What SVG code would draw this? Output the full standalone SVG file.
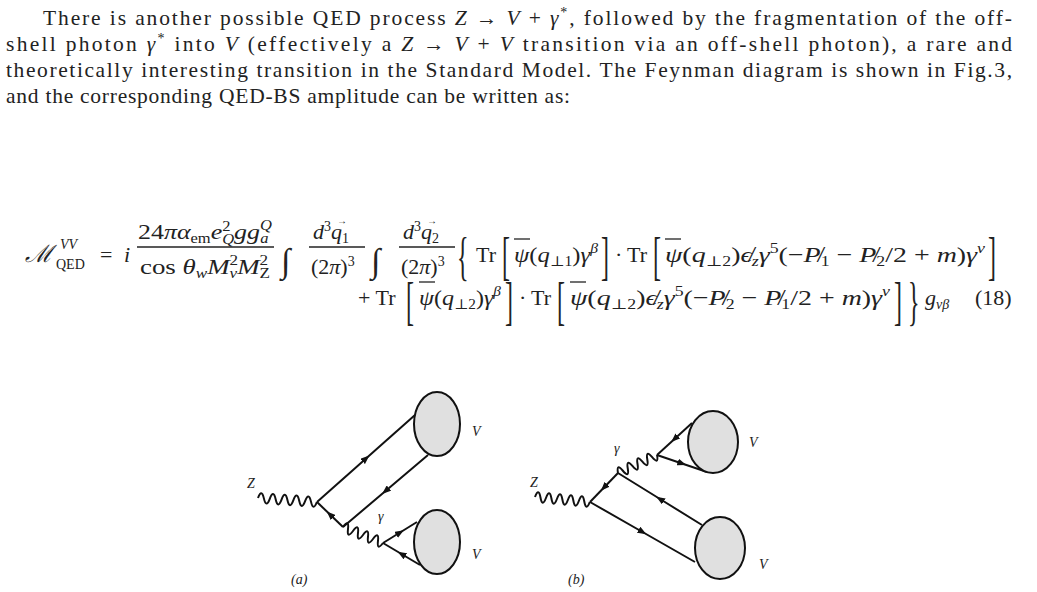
<svg xmlns="http://www.w3.org/2000/svg" width="1037" height="592" viewBox="0 0 1037 592">
<style>
text{font-family:"Liberation Serif","DejaVu Serif",serif;fill:#222;}
.p{font-size:21.5px;}
.m{font-size:22px;}
.i{font-style:italic;}
.s{font-size:14px;}
.lb{font-size:14px;font-style:italic;}
.f{fill:none;stroke:#111;stroke-width:2;marker-mid:url(#ar);}
.w{fill:none;stroke:#111;stroke-width:2;}
.bl{fill:#e0e0e0;stroke:#111;stroke-width:2;}
.ln{stroke:#222;stroke-width:1.3;}
.br{font-size:24px;}
</style>
<defs>
<marker id="ar" markerWidth="9" markerHeight="7" refX="4.5" refY="3.5" orient="auto" markerUnits="userSpaceOnUse"><path d="M0,0 L9,3.5 L0,7 z" fill="#111"/></marker>
</defs>
<rect width="1037" height="592" fill="#fff"/>
<g id="paragraph" class="p">
<text x="43" y="25" textLength="969" lengthAdjust="spacing">There is another possible QED process <tspan class="i">Z</tspan> → <tspan class="i">V</tspan> + <tspan class="i">γ</tspan><tspan class="s" dy="-8">*</tspan><tspan dy="8">, followed by the fragmentation of the off-</tspan></text>
<text x="6" y="51" textLength="1006" lengthAdjust="spacing">shell photon <tspan class="i">γ</tspan><tspan class="s" dy="-8">*</tspan><tspan dy="8"> into </tspan><tspan class="i">V</tspan> (effectively a <tspan class="i">Z</tspan> → <tspan class="i">V</tspan> + <tspan class="i">V</tspan> transition via an off-shell photon), a rare and</text>
<text x="6" y="77" textLength="1006" lengthAdjust="spacing">theoretically interesting transition in the Standard Model. The Feynman diagram is shown in Fig.3,</text>
<text x="6" y="103" textLength="564" lengthAdjust="spacing">and the corresponding QED-BS amplitude can be written as:</text>
</g>
<g id="equation" class="m">
<text x="25" y="262" class="i" font-size="24">ℳ</text>
<text x="60" y="249" class="s i">VV</text>
<text x="56" y="269" class="s">QED</text>
<text x="100" y="262">=</text>
<text x="124" y="262" class="i">i</text>
<text x="138" y="239" textLength="134" lengthAdjust="spacingAndGlyphs">24<tspan class="i">πα</tspan><tspan class="s" dy="4">em</tspan><tspan class="i" dy="-4">e</tspan><tspan class="s" dy="-8">2</tspan><tspan class="s i" dx="-7" dy="13">Q</tspan><tspan class="i" dy="-5">gg</tspan><tspan class="s i" dy="-9">Q</tspan><tspan class="s i" dx="-10" dy="13">a</tspan></text>
<line class="ln" x1="137" y1="247" x2="274" y2="247"/>
<text x="140" y="274" textLength="130" lengthAdjust="spacingAndGlyphs">cos <tspan class="i">θ</tspan><tspan class="s i" dy="4">w</tspan><tspan class="i" dy="-4">M</tspan><tspan class="s" dy="-9">2</tspan><tspan class="s i" dx="-7" dy="13">v</tspan><tspan class="i" dy="-4">M</tspan><tspan class="s" dy="-9">2</tspan><tspan class="s" dx="-7" dy="13">Z</tspan></text>
<text x="281" y="272" font-size="34" class="i">∫</text>
<text x="313" y="239"><tspan class="i">d</tspan><tspan class="s" dy="-8">3</tspan><tspan class="i" dy="8">q</tspan><tspan class="s" dy="4">1</tspan></text>
<text x="337" y="224" font-size="10">→</text>
<line class="ln" x1="309" y1="247" x2="365" y2="247"/>
<text x="311" y="274">(2<tspan class="i">π</tspan>)<tspan class="s" dy="-8">3</tspan></text>
<text x="371" y="272" font-size="34" class="i">∫</text>
<text x="403" y="239"><tspan class="i">d</tspan><tspan class="s" dy="-8">3</tspan><tspan class="i" dy="8">q</tspan><tspan class="s" dy="4">2</tspan></text>
<text x="427" y="224" font-size="10">→</text>
<line class="ln" x1="399" y1="247" x2="455" y2="247"/>
<text x="401" y="274">(2<tspan class="i">π</tspan>)<tspan class="s" dy="-8">3</tspan></text>
<text class="br" x="457" y="124.5" transform="scale(1,2.2)">{</text>
<text x="476" y="262">Tr</text>
<text class="br" x="502" y="124.5" transform="scale(1,2.2)">[</text>
<text x="514" y="262" textLength="84" lengthAdjust="spacingAndGlyphs"><tspan class="i">ψ</tspan>(<tspan class="i">q</tspan><tspan class="s" dy="4">⊥1</tspan><tspan dy="-4">)</tspan><tspan class="i">γ</tspan><tspan class="s i" dy="-9">β</tspan></text>
<line class="ln" x1="514" y1="239" x2="530" y2="239"/>
<text class="br" x="601" y="124.5" transform="scale(1,2.2)">]</text>
<text x="615" y="262">·</text>
<text x="627" y="262">Tr</text>
<text class="br" x="653" y="124.5" transform="scale(1,2.2)">[</text>
<text x="665" y="262" textLength="320" lengthAdjust="spacingAndGlyphs"><tspan class="i">ψ</tspan>(<tspan class="i">q</tspan><tspan class="s" dy="4">⊥2</tspan><tspan dy="-4">)</tspan><tspan class="i">ϵ̸</tspan><tspan class="s i" dy="4">z</tspan><tspan class="i" dy="-4">γ</tspan><tspan class="s" dy="-9">5</tspan><tspan dy="9">(−</tspan><tspan class="i">P̸</tspan><tspan class="s" dy="4">1</tspan><tspan dy="-4"> − </tspan><tspan class="i">P̸</tspan><tspan class="s" dy="4">2</tspan><tspan dy="-4">/2 + </tspan><tspan class="i">m</tspan>)<tspan class="i">γ</tspan><tspan class="s i" dy="-9">ν</tspan></text>
<line class="ln" x1="665" y1="239" x2="681" y2="239"/>
<text class="br" x="988" y="124.5" transform="scale(1,2.2)">]</text>
<text x="358" y="305">+ Tr</text>
<text class="br" x="406" y="145" transform="scale(1,2.2)">[</text>
<text x="419" y="305" textLength="82" lengthAdjust="spacingAndGlyphs"><tspan class="i">ψ</tspan>(<tspan class="i">q</tspan><tspan class="s" dy="4">⊥2</tspan><tspan dy="-4">)</tspan><tspan class="i">γ</tspan><tspan class="s i" dy="-9">β</tspan></text>
<line class="ln" x1="419" y1="282" x2="435" y2="282"/>
<text class="br" x="505" y="145" transform="scale(1,2.2)">]</text>
<text x="519" y="305">·</text>
<text x="531" y="305">Tr</text>
<text class="br" x="557" y="145" transform="scale(1,2.2)">[</text>
<text x="570" y="305" textLength="320" lengthAdjust="spacingAndGlyphs"><tspan class="i">ψ</tspan>(<tspan class="i">q</tspan><tspan class="s" dy="4">⊥2</tspan><tspan dy="-4">)</tspan><tspan class="i">ϵ̸</tspan><tspan class="s i" dy="4">z</tspan><tspan class="i" dy="-4">γ</tspan><tspan class="s" dy="-9">5</tspan><tspan dy="9">(−</tspan><tspan class="i">P̸</tspan><tspan class="s" dy="4">2</tspan><tspan dy="-4"> − </tspan><tspan class="i">P̸</tspan><tspan class="s" dy="4">1</tspan><tspan dy="-4">/2 + </tspan><tspan class="i">m</tspan>)<tspan class="i">γ</tspan><tspan class="s i" dy="-9">ν</tspan></text>
<line class="ln" x1="570" y1="282" x2="586" y2="282"/>
<text class="br" x="894" y="145" transform="scale(1,2.2)">]</text>
<text class="br" x="908" y="145" transform="scale(1,2.2)">}</text>
<text x="925" y="305"><tspan class="i">g</tspan><tspan class="s i" dy="4">νβ</tspan></text>
<text x="975" y="305">(18)</text>
</g>
<g id="connectors">
<path class="w" transform="translate(258,498) rotate(3.9)" d="M0,0 q2.95,-10 5.9,0 q2.95,10 5.9,0 q2.95,-10 5.9,0 q2.95,10 5.9,0 q2.95,-10 5.9,0 q2.95,10 5.9,0 q2.95,-10 5.9,0 q2.95,10 5.9,0 q2.95,-10 5.9,0 q2.95,10 5.9,0"/>
<path class="w" transform="translate(343,527) rotate(21.8)" d="M0,0 q2.69,-10 5.38,0 q2.69,10 5.38,0 q2.69,-10 5.38,0 q2.69,10 5.38,0 q2.69,-10 5.38,0 q2.69,10 5.38,0 q2.69,-10 5.38,0 q2.69,10 5.38,0"/>
<polyline class="f" points="317,502 366,458.5 415,415"/>
<polyline class="f" points="428,455 385.5,491 343,527"/>
<polyline class="f" points="343,527 330,514.5 317,502"/>
<polyline class="f" points="383,543 400,532.5 417,522"/>
<polyline class="f" points="420,565 401.5,554 383,543"/>
<path class="w" transform="translate(535,497) rotate(5.2)" d="M0,0 q2.75,-10 5.5,0 q2.75,10 5.5,0 q2.75,-10 5.5,0 q2.75,10 5.5,0 q2.75,-10 5.5,0 q2.75,10 5.5,0 q2.75,-10 5.5,0 q2.75,10 5.5,0 q2.75,-10 5.5,0 q2.75,10 5.5,0"/>
<path class="w" transform="translate(618,473) rotate(-24.8)" d="M0,0 q2.69,-10 5.38,0 q2.69,10 5.38,0 q2.69,-10 5.38,0 q2.69,10 5.38,0 q2.69,-10 5.38,0 q2.69,10 5.38,0 q2.69,-10 5.38,0 q2.69,10 5.38,0"/>
<polyline class="f" points="618,473 604,487.5 590,502"/>
<polyline class="f" points="692,423 674.5,439 657,455"/>
<polyline class="f" points="657,455 682,463.5 707,472"/>
<polyline class="f" points="702,525 660,499 618,473"/>
<polyline class="f" points="590,502 642.5,532 695,562"/>
</g>
<g id="blob-a1"><ellipse class="bl" cx="437" cy="424" rx="23" ry="32"/></g>
<g id="blob-a2"><ellipse class="bl" cx="437" cy="542" rx="23" ry="32"/></g>
<g id="blob-b1"><ellipse class="bl" cx="713" cy="442" rx="25" ry="31"/></g>
<g id="blob-b2"><ellipse class="bl" cx="720" cy="548" rx="25" ry="31"/></g>
<g id="labels">
<text class="lb" x="247" y="488">Z</text>
<text class="lb" x="472" y="436">V</text>
<text class="lb" x="472" y="559">V</text>
<text class="lb" x="378" y="521">γ</text>
<text class="lb" x="291" y="584" font-size="13">(a)</text>
<text class="lb" x="530" y="487">Z</text>
<text class="lb" x="749" y="447">V</text>
<text class="lb" x="759" y="569">V</text>
<text class="lb" x="614" y="453">γ</text>
<text class="lb" x="568" y="584" font-size="13">(b)</text>
</g>
</svg>
